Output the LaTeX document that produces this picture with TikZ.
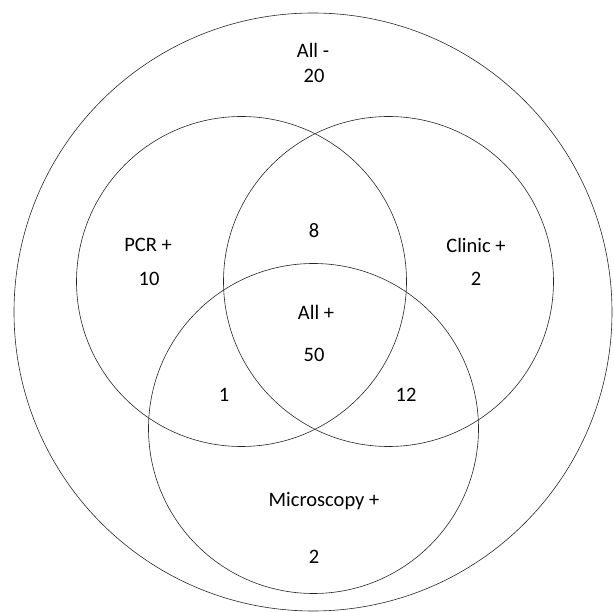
\documentclass[tikz,border=0pt]{standalone}
\usepackage{fontspec}
\setmainfont{Carlito}
\usepackage{tikz}
\tikzset{%
         ring/.style = { draw=black!85, line width=0.6pt },
        count/.style = { font=\fontsize{20.5}{24}\selectfont, inner sep=0pt, anchor=center }
}
\begin{document}
\begin{tikzpicture}[x=1pt,y=-1pt,line cap=round,line join=round]
\useasboundingbox (0,0) rectangle (614,612);
% outer set
\draw[ring] (313,312) circle (299pt);
% three tests
\draw[ring] (241.5,281.5) circle (165pt);
\draw[ring] (388.5,281.5) circle (165pt);
\draw[ring] (313.5,428.5) circle (165pt);
% labels
\node[count] (allneg)  at (313,50)  {All -};
\node[count] (allnegn) at (314,76)  {20};
\node[count] (pcr)     at (148,245) {PCR +};
\node[count] (pcrn)    at (149,279) {10};
\node[count] (pcrcli)  at (314,231) {8};
\node[count] (clinic)  at (476,245) {Clinic +};
\node[count] (clinicn) at (476,279) {2};
\node[count] (allpos)  at (316,312) {All +};
\node[count] (allposn) at (314,355) {50};
\node[count] (pcrmic)  at (224,395) {1};
\node[count] (climic)  at (406,395) {12};
\node[count] (micro)   at (324,501) {Microscopy +};
\node[count] (micron)  at (314,557) {2};
\end{tikzpicture}
\end{document}
